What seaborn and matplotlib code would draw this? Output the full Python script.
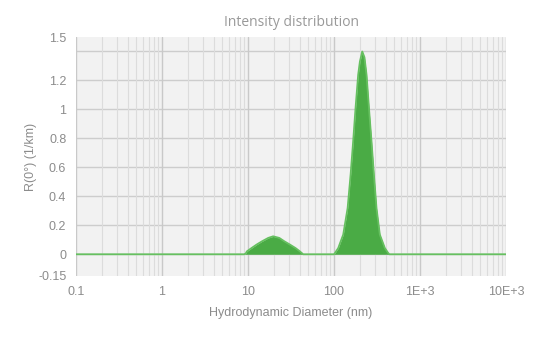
import matplotlib
matplotlib.use("Agg")
import matplotlib.pyplot as plt
import matplotlib.ticker as mticker
import seaborn as sns
import pandas as pd

# Data (diameter in nm, intensity R(0°) in 1/km)
diameter_nm = [0.1, 9.0, 9.4, 9.7, 11.0, 12.6, 14.6, 17.2, 19.6, 23.1, 26.4, 30.7,
               35.7, 40.1, 43.8, 100, 103, 112, 128, 144, 156, 167, 178, 191, 200,
               213, 226, 239, 255, 273, 291, 312, 341, 390, 425, 440, 10000]
intensity = [0.0, 0.0, 0.005, 0.02, 0.043, 0.067, 0.090, 0.113, 0.124, 0.113, 0.090, 0.067,
             0.043, 0.020, 0.0, 0.0, 0.01, 0.043, 0.136, 0.319, 0.55, 0.779, 1.009, 1.239, 1.33,
             1.40, 1.36, 1.239, 1.009, 0.779, 0.55, 0.319, 0.136, 0.043, 0.01, 0.0, 0.0]

x_ticks = [0.1, 1, 10, 100, 1000, 10000]
x_tick_labels = ["0.1", "1", "10", "100", "1E+3", "10E+3"]
y_ticks = [-0.15, 0, 0.2, 0.4, 0.6, 0.8, 1, 1.2, 1.4, 1.5]
y_tick_labels = ["-0.15", "0", "0.2", "0.4", "0.6", "0.8", "1", "1.2", "", "1.5"]

df = pd.DataFrame({"d": diameter_nm, "r": intensity})

sns.set_style("white")
plt.rcParams["font.family"] = ["Liberation Sans", "DejaVu Sans"]

fig = plt.figure(figsize=(5.36, 3.51), dpi=100)
ax = fig.add_axes([76/536, 1-276/351, 430/536, 239/351])
ax.set_facecolor("#f2f2f2")

ax.set_xscale("log")
ax.set_xlim(0.1, 10000)
ax.set_ylim(-0.15, 1.5)

# grid
ax.xaxis.set_minor_locator(mticker.LogLocator(base=10, subs=range(2, 10), numticks=20))
ax.xaxis.set_minor_formatter(mticker.NullFormatter())
ax.grid(True, which="major", axis="x", color="#c9c9c9", lw=1.0, zorder=0)
ax.grid(True, which="minor", axis="x", color="#dcdcdc", lw=0.8, zorder=0)
for yv in [0, 0.2, 0.4, 0.6, 0.8, 1, 1.2, 1.4]:
    ax.axhline(yv, color="#cdcdcd", lw=1.0, zorder=0)

ax.fill_between(df["d"], 0, df["r"], color="#4aab45", lw=0, zorder=2)
sns.lineplot(data=df, x="d", y="r", ax=ax, color="#66c060", lw=1.3, zorder=3)

ax.set_xticks(x_ticks)
ax.set_xticklabels(x_tick_labels)
ax.set_yticks(y_ticks)
ax.set_yticklabels(y_tick_labels)
ax.tick_params(axis="both", which="major", colors="#c4c4c4", labelcolor="#8c8c8c",
               labelsize=9, length=5, width=0.8, direction="out", pad=2)
ax.tick_params(axis="x", which="minor", length=0)

for s in ax.spines.values():
    s.set_visible(False)

ax.set_xlabel("Hydrodynamic Diameter (nm)", color="#8c8c8c", fontsize=9, labelpad=7)
ax.set_ylabel("R(0°) (1/km)", color="#8c8c8c", fontsize=9)
ax.yaxis.set_label_coords(-0.09, 0.5)
ax.set_title("Intensity distribution", color="#999999", fontsize=10,
             family=["Open Sans", "DejaVu Sans"], pad=8)

fig.savefig("out.png", dpi=100)
